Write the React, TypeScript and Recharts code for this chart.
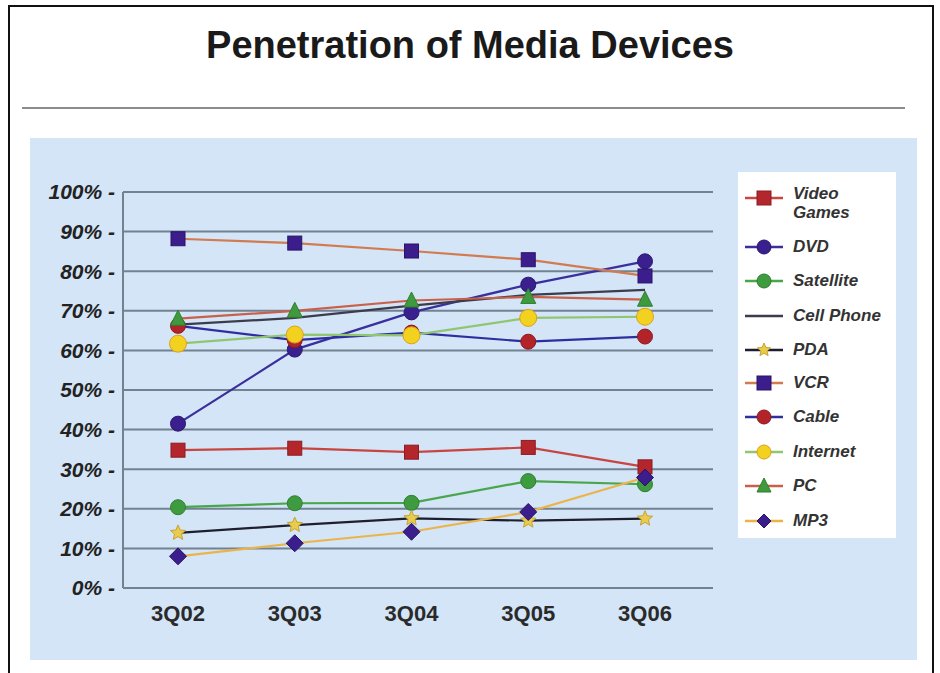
import React from 'react';
import { LineChart, Line, XAxis, YAxis, CartesianGrid } from 'recharts';

const quarters = ['3Q02', '3Q03', '3Q04', '3Q05', '3Q06'];
const yTicks = [0, 10, 20, 30, 40, 50, 60, 70, 80, 90, 100];

const videoGames = [34.8, 35.3, 34.3, 35.5, 30.6];
const dvd = [41.5, 60.2, 69.6, 76.6, 82.5];
const satellite = [20.4, 21.4, 21.5, 27.0, 26.2];
const cellPhone = [66.5, 68.2, 71.3, 74.0, 75.3];
const pda = [13.9, 15.9, 17.6, 17.0, 17.5];
const vcr = [88.2, 87.1, 85.1, 82.9, 78.8];
const cable = [66.2, 62.6, 64.5, 62.2, 63.5];
const internet = [61.7, 64.0, 63.8, 68.2, 68.5];
const pc = [68.0, 70.0, 72.6, 73.5, 72.8];
const mp3 = [8.0, 11.3, 14.2, 19.2, 27.9];

type Shape = 'square' | 'circle' | 'triangle' | 'diamond' | 'star' | 'none';

// series styling, in Excel's drawing order
const series: { key: string; label: string[]; values: number[]; line: string; shape: Shape; fill: string; stroke: string; size: number }[] = [
    { key: 'videoGames', label: ['Video', 'Games'], values: videoGames, line: '#c9453f', shape: 'square', fill: '#b3262c', stroke: '#8c1c22', size: 14 },
    { key: 'dvd', label: ['DVD'], values: dvd, line: '#3a2f9c', shape: 'circle', fill: '#3a1f8e', stroke: '#2c1870', size: 15 },
    { key: 'satellite', label: ['Satellite'], values: satellite, line: '#4aa64a', shape: 'circle', fill: '#3f9b3f', stroke: '#2f7f2f', size: 15 },
    { key: 'cellPhone', label: ['Cell Phone'], values: cellPhone, line: '#3c3c4c', shape: 'none', fill: 'none', stroke: 'none', size: 0 },
    { key: 'pda', label: ['PDA'], values: pda, line: '#1e1e2e', shape: 'star', fill: '#e8cc4c', stroke: '#c9a232', size: 16 },
    { key: 'vcr', label: ['VCR'], values: vcr, line: '#d27a50', shape: 'square', fill: '#3b1d8c', stroke: '#2a1468', size: 14 },
    { key: 'cable', label: ['Cable'], values: cable, line: '#2e2e9e', shape: 'circle', fill: '#b3242a', stroke: '#8c1a1f', size: 15 },
    { key: 'internet', label: ['Internet'], values: internet, line: '#8fc66f', shape: 'circle', fill: '#f2d21e', stroke: '#dca020', size: 17 },
    { key: 'pc', label: ['PC'], values: pc, line: '#c8604a', shape: 'triangle', fill: '#3f9a3f', stroke: '#2f7f2f', size: 15 },
    { key: 'mp3', label: ['MP3'], values: mp3, line: '#ebb44a', shape: 'diamond', fill: '#3b1d8c', stroke: '#2a1468', size: 17 },
];

const data = quarters.map((q, i) => {
    const row: Record<string, string | number> = { quarter: q };
    series.forEach((s) => {
        row[s.key] = s.values[i];
    });
    return row;
});

const font = 'Arial, "Liberation Sans", Helvetica, sans-serif';

function Marker({ cx, cy, shape, fill, stroke, size }: { cx: number; cy: number; shape: Shape; fill: string; stroke: string; size: number }) {
    const h = size / 2;
    if (shape === 'none') return null;
    if (shape === 'square') {
        return <rect x={cx - h} y={cy - h} width={size} height={size} fill={fill} stroke={stroke} strokeWidth={1} />;
    }
    if (shape === 'circle') {
        return <circle cx={cx} cy={cy} r={h} fill={fill} stroke={stroke} strokeWidth={1} />;
    }
    if (shape === 'triangle') {
        const pts = `${cx},${cy - h - 1} ${cx + h},${cy + h - 1} ${cx - h},${cy + h - 1}`;
        return <polygon points={pts} fill={fill} stroke={stroke} strokeWidth={1} />;
    }
    if (shape === 'diamond') {
        const pts = `${cx},${cy - h} ${cx + h},${cy} ${cx},${cy + h} ${cx - h},${cy}`;
        return <polygon points={pts} fill={fill} stroke={stroke} strokeWidth={1} />;
    }
    // five point star
    const pts: string[] = [];
    for (let k = 0; k < 10; k++) {
        const r = k % 2 === 0 ? h : h * 0.45;
        const a = -Math.PI / 2 + (k * Math.PI) / 5;
        pts.push(`${cx + r * Math.cos(a)},${cy + r * Math.sin(a)}`);
    }
    return <polygon points={pts.join(' ')} fill={fill} stroke={stroke} strokeWidth={1} />;
}

// legend row centres (page y)
const legendRows = [198, 247, 281, 316, 350, 383, 417, 452, 486, 521];

function LegendBox() {
    return (
        <div style={{ position: 'absolute', left: 738, top: 172, width: 158, height: 366, background: '#ffffff' }}>
            {series.map((s, i) => {
                const cy = legendRows[i] - 172;
                return (
                    <div key={s.key}>
                        <svg width={44} height={24} style={{ position: 'absolute', left: 5, top: cy - 12 }}>
                            <line x1={2} y1={12} x2={40} y2={12} stroke={s.line} strokeWidth={2.5} />
                            <Marker cx={21} cy={12} shape={s.shape} fill={s.fill} stroke={s.stroke} size={Math.min(s.size, 14)} />
                        </svg>
                        <div
                            style={{
                                position: 'absolute',
                                left: 55,
                                top: s.label.length > 1 ? cy - 14 : cy - 10,
                                fontFamily: font,
                                fontSize: 17,
                                fontStyle: 'italic',
                                fontWeight: 'bold',
                                lineHeight: '19px',
                                color: '#333',
                                whiteSpace: 'nowrap',
                            }}
                        >
                            {s.label.map((t) => (
                                <div key={t}>{t}</div>
                            ))}
                        </div>
                    </div>
                );
            })}
        </div>
    );
}

export default function App() {
    return (
        <div style={{ position: 'absolute', left: 0, top: 0, width: 940, height: 673, background: '#ffffff', overflow: 'hidden' }}>
            {/* outer frame */}
            <div style={{ position: 'absolute', left: 8, top: 5, width: 926, height: 700, border: '2px solid #111', boxSizing: 'border-box' }} />
            <div
                style={{
                    position: 'absolute',
                    left: 0,
                    width: 940,
                    top: 26,
                    textAlign: 'center',
                    fontFamily: font,
                    fontWeight: 'bold',
                    fontSize: 38,
                    lineHeight: '38px',
                    color: '#1a1a1a',
                }}
            >
                Penetration of Media Devices
            </div>
            <div style={{ position: 'absolute', left: 22, top: 107, width: 883, height: 2, background: '#8c8c8c' }} />
            {/* blue panel */}
            <div style={{ position: 'absolute', left: 30, top: 138, width: 887, height: 522, background: '#d3e5f7' }} />
            <LegendBox />
            <div style={{ position: 'absolute', left: 0, top: 0 }}>
                <LineChart width={940} height={673} data={data} margin={{ top: 192, right: 227, bottom: 45, left: 23 }}>
                    <CartesianGrid vertical={false} stroke="#728292" strokeWidth={2} />
                    <XAxis
                        dataKey="quarter"
                        height={40}
                        padding={{ left: 55, right: 68 }}
                        tickLine={false}
                        axisLine={{ stroke: '#728292', strokeWidth: 2 }}
                        tickMargin={11}
                        tick={{ fill: '#2a2a2a', fontSize: 22, fontWeight: 'bold', fontFamily: font }}
                    />
                    <YAxis
                        width={100}
                        domain={[0, 100]}
                        ticks={yTicks}
                        interval={0}
                        tickLine={false}
                        axisLine={{ stroke: '#728292', strokeWidth: 2 }}
                        tickFormatter={(v: number) => `${v}% -`}
                        tick={{ fill: '#222', fontSize: 21, fontWeight: 'bold', fontStyle: 'italic', fontFamily: font }}
                    />
                    {series.map((s) => (
                        <Line
                            key={s.key}
                            dataKey={s.key}
                            type="linear"
                            stroke={s.line}
                            strokeWidth={2.2}
                            isAnimationActive={false}
                            activeDot={false}
                            dot={(p: any) => (
                                <g key={`${s.key}-${p.index}`}>
                                    <Marker cx={p.cx} cy={p.cy} shape={s.shape} fill={s.fill} stroke={s.stroke} size={s.size} />
                                </g>
                            )}
                        />
                    ))}
                </LineChart>
            </div>
        </div>
    );
}
